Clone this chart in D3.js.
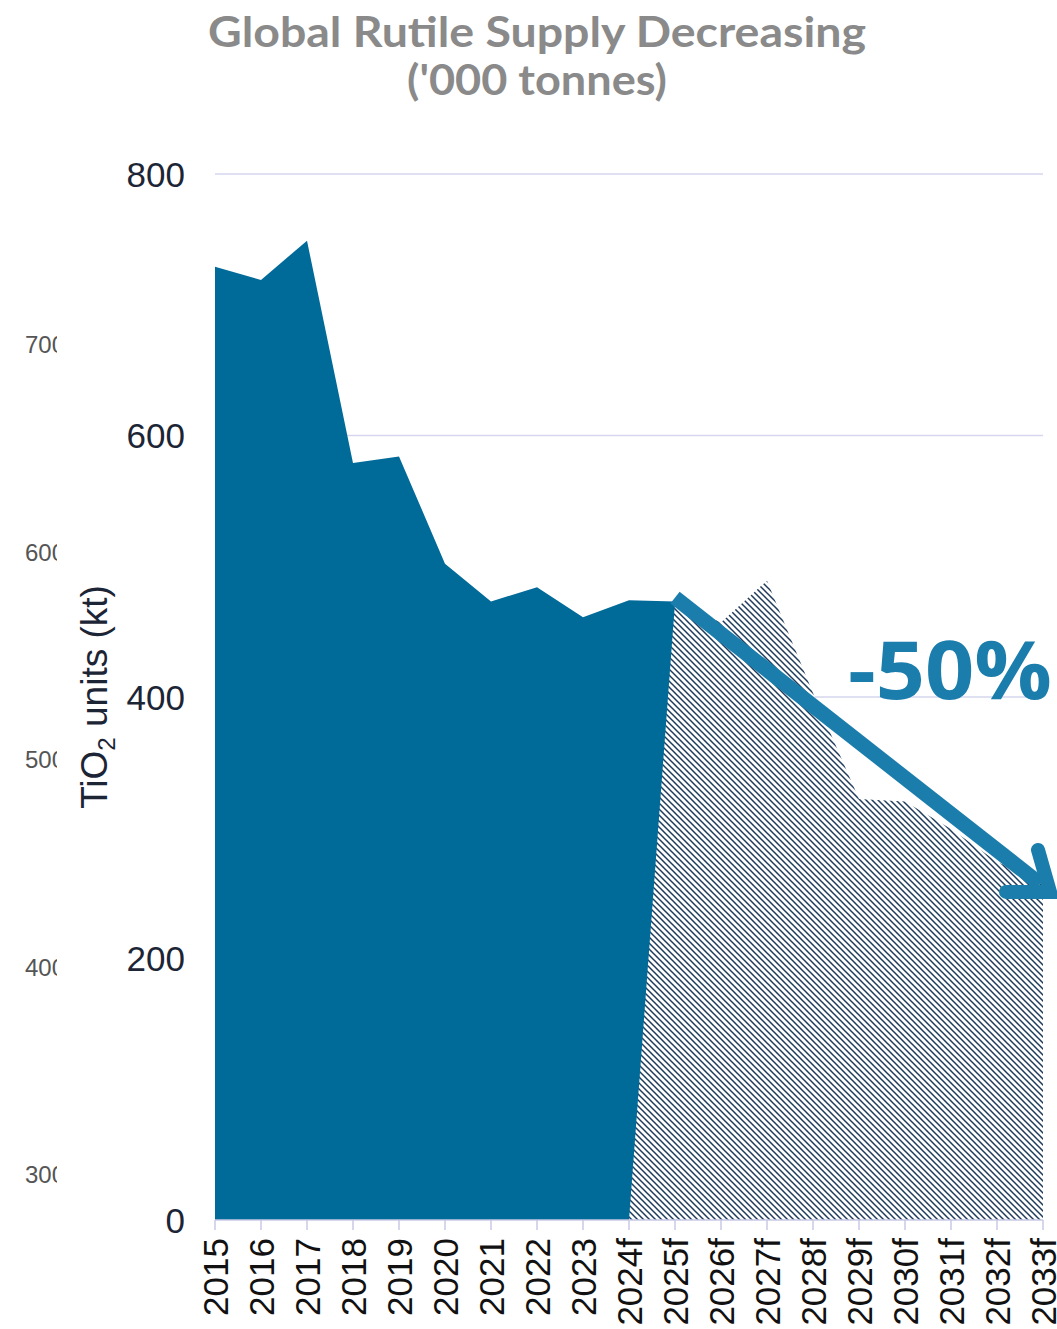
<!DOCTYPE html>
<html><head><meta charset="utf-8">
<script src="https://cdn.jsdelivr.net/npm/d3@7"></script>
<style>html,body{margin:0;padding:0;background:#fff;}svg{display:block;}</style>
</head><body>
<svg id="chart" width="1057" height="1329"></svg>
<script>
const categories = ["2015","2016","2017","2018","2019","2020","2021","2022","2023","2024f","2025f","2026f","2027f","2028f","2029f","2030f","2031f","2032f","2033f"];
const actualValues = [729, 719, 749, 579, 584, 502, 473, 484, 461, 474, 473, null, null, null, null, null, null, null, null];
const forecastValues = [null, null, null, null, null, null, null, null, null, 0, 472, 457, 489, 403, 322, 320, 299, 274, 258];
const yTicks = [0, 200, 400, 600, 800];
const ghostTicks = [300, 400, 500, 600, 700];
const titleLines = ["Global Rutile Supply Decreasing", "('000 tonnes)"];
const changeLabel = "-50%";
const arrowFrom = {cat: "2025f", value: 476};
const arrowTo = {cat: "2033f", value: 254};

const svg = d3.select("#chart");
const x = d3.scalePoint().domain(categories).range([215, 1043]);
const y = d3.scaleLinear().domain([0, 800]).range([1220, 174]);
const ghostY = d3.scaleLinear().domain([300, 700]).range([1175, 345]);

const defs = svg.append("defs");
const pat = defs.append("pattern").attr("id", "hatch").attr("patternUnits", "userSpaceOnUse")
  .attr("width", 6).attr("height", 6);
pat.append("rect").attr("width", 6).attr("height", 6).attr("fill", "#fff");
pat.append("path").attr("d", "M0,0 L6,6 M-1,5 L1,7 M5,-1 L7,1")
  .attr("stroke", "#1f3b5c").attr("stroke-width", 1.5);
defs.append("clipPath").attr("id", "ghostClip").append("rect")
  .attr("x", 0).attr("y", 0).attr("width", 57).attr("height", 1329);

// ghost labels (cropped background)
svg.append("g").attr("clip-path", "url(#ghostClip)")
  .selectAll("text").data(ghostTicks).join("text")
  .attr("x", 25).attr("y", d => ghostY(d)).attr("dy", "0.35em")
  .attr("font-family", "Liberation Sans, Arial, sans-serif").attr("font-size", 24)
  .attr("fill", "#555").text(d => d);

// title
svg.append("g").selectAll("text").data(titleLines).join("text")
  .attr("x", 537).attr("y", (d, i) => 47 + i * 48)
  .attr("text-anchor", "middle")
  .attr("font-family", "Lato, 'Open Sans', sans-serif").attr("font-weight", "bold")
  .attr("font-size", 42).attr("fill", "#8a8a8a")
  .attr("textLength", (d, i) => i === 0 ? 658 : 260).attr("lengthAdjust", "spacingAndGlyphs")
  .text(d => d);

// gridlines
svg.append("g").selectAll("line").data(yTicks.filter(d => d > 0)).join("line")
  .attr("x1", x.range()[0]).attr("x2", x.range()[1])
  .attr("y1", d => y(d)).attr("y2", d => y(d))
  .attr("stroke", "#d6d6ef").attr("stroke-width", 1.5);

// y tick labels
svg.append("g").selectAll("text").data(yTicks).join("text")
  .attr("x", 185).attr("y", d => y(d)).attr("dy", "0.36em")
  .attr("text-anchor", "end")
  .attr("font-family", "Liberation Sans, Arial, sans-serif").attr("font-size", 35)
  .attr("fill", "#1c2536").text(d => d);

// y title
const yt = svg.append("text")
  .attr("transform", `translate(107,${y(400)}) rotate(-90)`)
  .attr("text-anchor", "middle")
  .attr("font-family", "Liberation Sans, Arial, sans-serif").attr("font-size", 37)
  .attr("fill", "#1c2536");
yt.append("tspan").text("TiO");
yt.append("tspan").attr("font-size", 24).attr("dy", 8).text("2");
yt.append("tspan").attr("dy", -8).text(" units (kt)");

// areas
const area = d3.area().defined(d => d.v !== null)
  .x(d => x(d.c)).y0(y(0)).y1(d => y(d.v));
svg.append("path")
  .datum(categories.map((c, i) => ({c, v: actualValues[i]})))
  .attr("d", area).attr("fill", "#006a99");
svg.append("path")
  .datum(categories.map((c, i) => ({c, v: forecastValues[i]})))
  .attr("d", area).attr("fill", "url(#hatch)");

// x axis
const xa = svg.append("g");
xa.append("line").attr("x1", x.range()[0]).attr("x2", x.range()[1])
  .attr("y1", y(0)).attr("y2", y(0)).attr("stroke", "#c8c8e6").attr("stroke-width", 1.5);
xa.selectAll("line.t").data(categories).join("line").attr("class", "t")
  .attr("x1", d => x(d)).attr("x2", d => x(d)).attr("y1", y(0)).attr("y2", y(0) + 10)
  .attr("stroke", "#c8c8e6").attr("stroke-width", 1.5);
xa.selectAll("text").data(categories).join("text")
  .attr("transform", d => `translate(${x(d)},1238) rotate(-90)`)
  .attr("dy", "0.36em").attr("text-anchor", "end")
  .attr("font-family", "Liberation Sans, Arial, sans-serif").attr("font-size", 35)
  .attr("fill", "#111").text(d => d);

// arrow annotation
const ax0 = x(arrowFrom.cat), ay0 = y(arrowFrom.value);
const ax1 = x(arrowTo.cat) + 3, ay1 = y(arrowTo.value);
svg.append("line").attr("x1", ax0).attr("y1", ay0).attr("x2", ax1 - 6).attr("y2", ay1 - 4)
  .attr("stroke", "#1a7dac").attr("stroke-width", 15);
svg.append("path")
  .attr("d", `M${ax1 - 8},${ay1 - 38} L${ax1 + 4},${ay1 + 4} L${ax1 - 40},${ay1 + 4}`)
  .attr("fill", "none").attr("stroke", "#1a7dac").attr("stroke-width", 14)
  .attr("stroke-linecap", "round").attr("stroke-linejoin", "miter");

svg.append("text").attr("x", x("2033f") + 9).attr("y", y(400) + 2)
  .attr("text-anchor", "end")
  .attr("font-family", "'Open Sans', Lato, sans-serif").attr("font-weight", "bold")
  .attr("font-size", 80).attr("fill", "#1a7dac")
  .attr("textLength", 204).attr("lengthAdjust", "spacingAndGlyphs")
  .text(changeLabel);
</script>
</body></html>
